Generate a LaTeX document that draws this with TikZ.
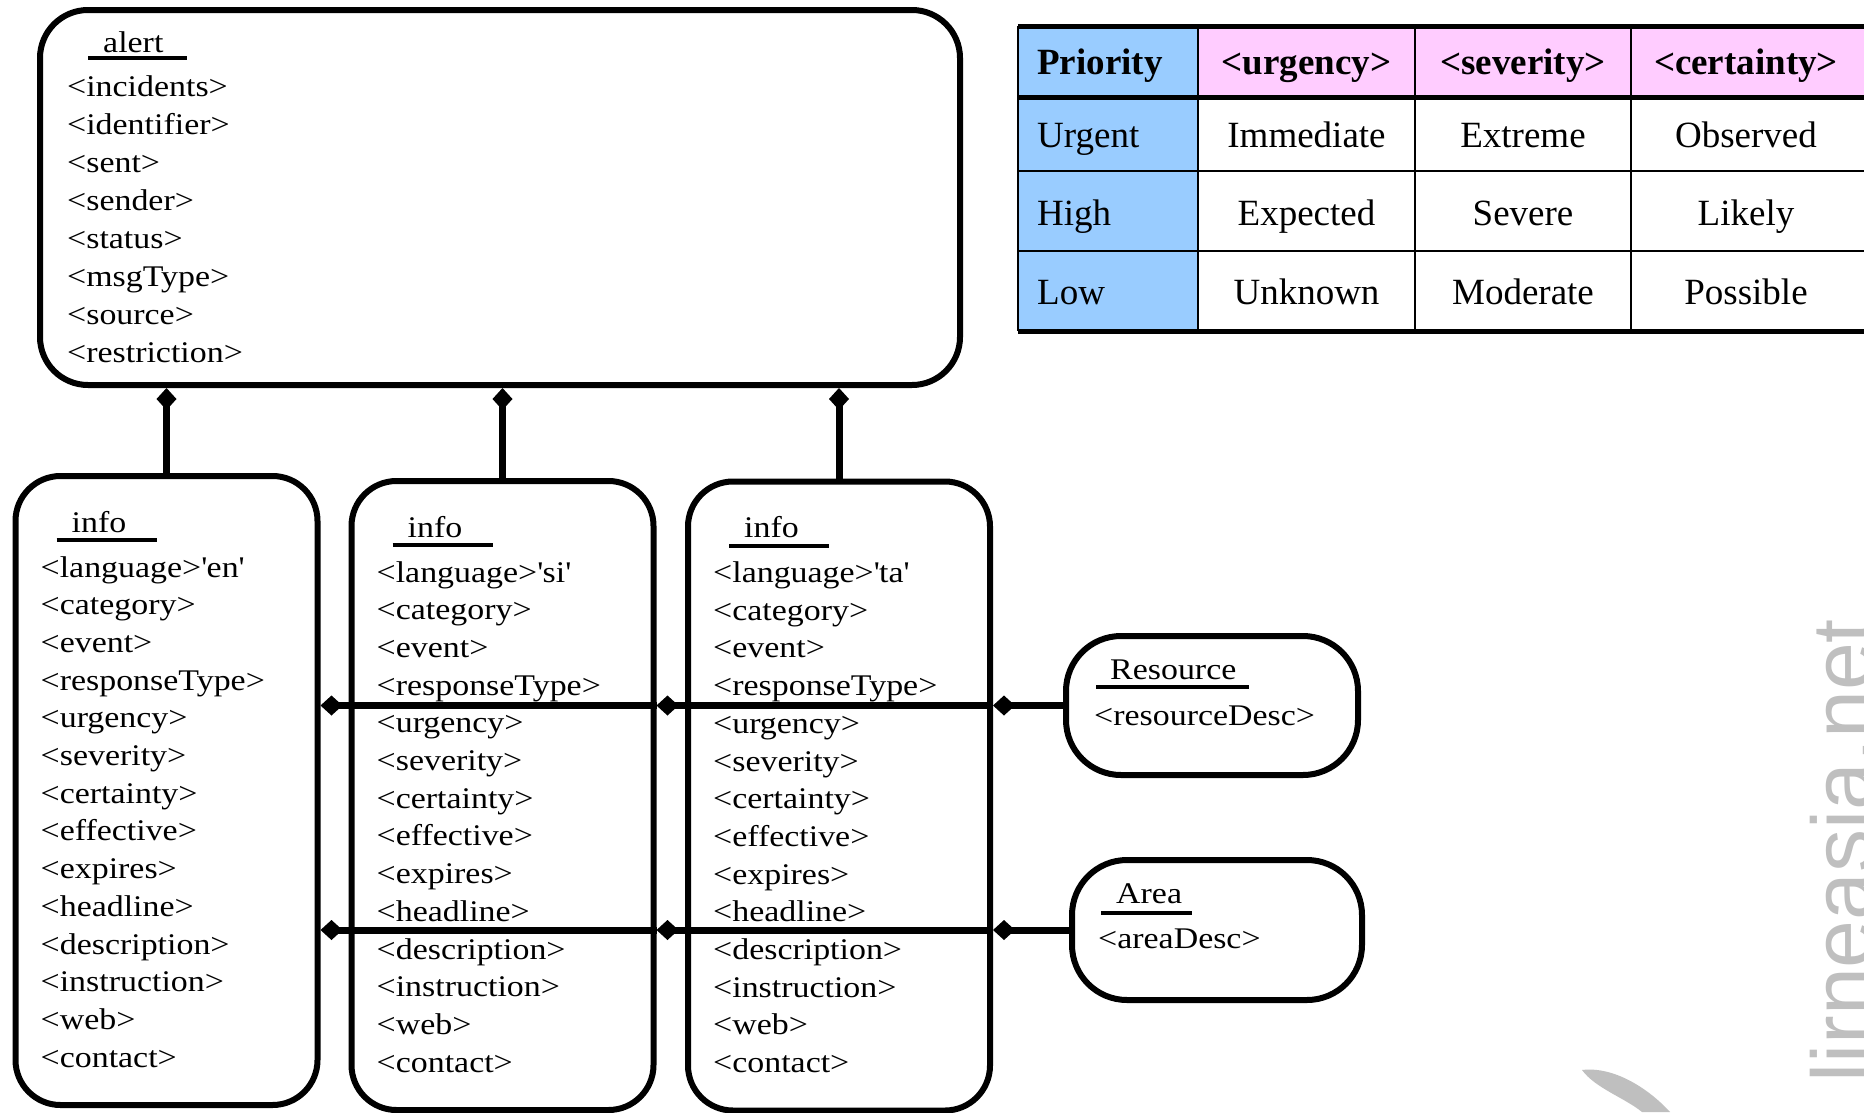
\documentclass[tikz,border=0pt]{standalone}
\usepackage{fontspec}
\setmainfont{Liberation Serif}
\newfontfamily\umlfont[FakeStretch=1.13]{Liberation Serif}
\newfontfamily\wmfont{Liberation Sans}
\usetikzlibrary{calc,arrows.meta}
\definecolor{prioblue}{HTML}{99CCFF}
\definecolor{headpink}{HTML}{FFCCFF}
\tikzset{
  classbox/.style={draw,line width=6pt,rounded corners=#1,inner sep=0pt},
  classbox/.default=48pt,
  uml/.style={font=\umlfont\fontsize{30}{36}\selectfont,anchor=base west,inner sep=0pt},
  titlebar/.style={line width=4pt},
  haspart/.style={line width=7pt,{Diamond[length=22pt,width=20pt]}-},
  cell/.style={font=\fontsize{37}{44}\selectfont,anchor=base,inner sep=0pt},
  headcell/.style={cell,font=\fontsize{37}{44}\selectfont\bfseries},
}

\begin{document}
\begin{tikzpicture}[x=1pt,y=-1pt]
  \useasboundingbox (0,0) rectangle (1864,1112);
  \fill[white] (0,0) rectangle (1864,1112);
  \clip (0,0) rectangle (1864,1112);
  % watermark
  \fill[black!25] (1582,1070) .. controls (1615,1066) and (1650,1090) .. (1670,1112) -- (1642,1112) .. controls (1625,1098) and (1595,1088) .. cycle;
  \node[rotate=90,anchor=base west,inner sep=0pt,text=black!25,font=\wmfont\fontsize{86}{90}\selectfont] (wm) at (1872,1083) {lirneasia.net};
  % alert block
  \node[classbox,minimum width=920pt,minimum height=375pt] (alert) at (500,197.5) {};
  \node[uml] (alert-title) at ($(alert.north west)+(66,45)$) {alert};
  \draw[titlebar] ($(alert.north west)+(51,51)$) -- ++(99,0);
  \foreach \t [count=\k from 0] in {<incidents>,<identifier>,<sent>,<sender>,<status>,<msgType>,<source>,<restriction>}
    \node[uml] (alert-\k) at ($(alert.north west)+(30,89+38*\k)$) {\t};
  % info blocks, one per language
  \foreach \i/\x/\y/\lang in {1/166.5/790.5/en, 2/502.5/795.5/si, 3/839/796/ta} {
    \node[classbox=45pt,minimum width=302pt,minimum height=629pt] (info\i) at (\x,\y) {};
    \node[uml] (info\i-title) at ($(info\i.north west)+(59,59)$) {info};
    \draw[titlebar] ($(info\i.north west)+(44,67)$) -- ++(100,0);
    \foreach \t [count=\k from 0] in {<language>\textquotesingle\lang\textquotesingle,<category>,<event>,<responseType>,<urgency>,<severity>,<certainty>,<effective>,<expires>,<headline>,<description>,<instruction>,<web>,<contact>}
      \node[uml] (info\i-\k) at ($(info\i.north west)+(28,104+37.7*\k)$) {\t};
  }
  % resource and area blocks
  \node[classbox=55pt,minimum width=292pt,minimum height=139pt] (res) at (1212,705.5) {};
  \node[uml] (res-title) at ($(res.north west)+(47,46)$) {Resource};
  \draw[titlebar] ($(res.north west)+(33,54)$) -- ++(153,0);
  \node[uml] (res-0) at ($(res.north west)+(31,92)$) {<resourceDesc>};
  \node[classbox=55pt,minimum width=290pt,minimum height=140pt] (area) at (1217,930) {};
  \node[uml] (area-title) at ($(area.north west)+(47,46)$) {Area};
  \draw[titlebar] ($(area.north west)+(32,56)$) -- ++(91,0);
  \node[uml] (area-0) at ($(area.north west)+(29,91)$) {<areaDesc>};
  % composition links
  \foreach \i in {1,2,3} \draw[haspart] (alert.south -| info\i.north) -- (info\i.north);
  \foreach \b in {res,area} {
    \draw[haspart] (info1.east |- \b.west) -- (info2.east |- \b.west);
    \draw[haspart] (info2.east |- \b.west) -- (info3.east |- \b.west);
    \draw[haspart] (info3.east |- \b.west) -- (\b.west);
  }
  % priority table
  \fill[prioblue] (1018,26) rectangle (1198,331);
  \fill[headpink] (1198,26) rectangle (1870,97);
  \foreach \x in {1018,1198,1415,1631} \draw[line width=2.5pt] (\x,26) -- (\x,331);
  \foreach \y in {171,251} \draw[line width=2.5pt] (1018,\y) -- (1870,\y);
  \foreach \y in {26,97,331} \draw[line width=5pt] (1018,\y) -- (1870,\y);
  \node[headcell,anchor=base west] (prio-head) at (1037,74) {Priority};
  \foreach \t/\x [count=\c] in {<urgency>/1306.5,<severity>/1523,<certainty>/1746}
    \node[headcell] (head\c) at (\x,74) {\t};
  \foreach \p/\u/\s/\cer/\y [count=\r] in {Urgent/Immediate/Extreme/Observed/147,High/Expected/Severe/Likely/225,Low/Unknown/Moderate/Possible/304} {
    \node[cell,anchor=base west] (prio\r) at (1037,\y) {\p};
    \node[cell] (urg\r) at (1306.5,\y) {\u}; \node[cell] (sev\r) at (1523,\y) {\s}; \node[cell] (cer\r) at (1746,\y) {\cer};
  }
\end{tikzpicture}
\end{document}
